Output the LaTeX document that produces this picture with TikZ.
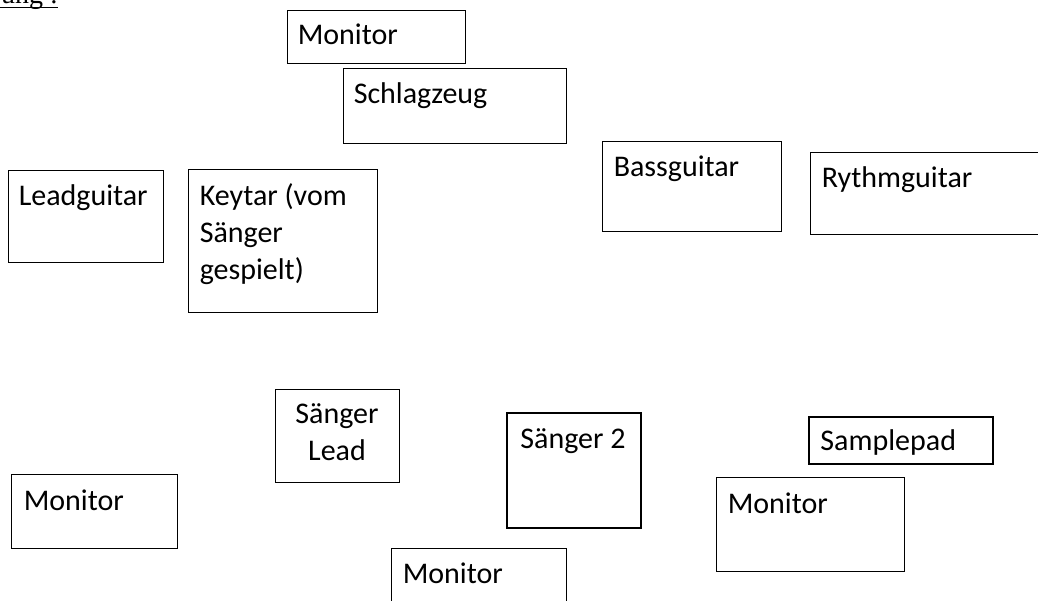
\documentclass[tikz,border=0pt]{standalone}
\usepackage{fontspec}
\setmainfont{Carlito}
\newfontfamily\serifhead{Liberation Serif}
\begin{document}
\begin{tikzpicture}[x=1pt,y=-1pt,
  box/.style={draw=black, line width=0.9pt, inner sep=0pt, rectangle},
  boxthick/.style={box, line width=1.5pt},
  lbl/.style={inner sep=0pt, anchor=base west, font=\fontsize{30}{36}\selectfont},
  lblc/.style={lbl, anchor=base}]
\useasboundingbox (0,0) rectangle (1038,601);
\clip (0,0) rectangle (1038,601);
% heading fragment
\node[inner sep=0pt, anchor=base east, font=\serifhead\fontsize{28}{32}\selectfont] (head) at (58,4) {ung :};
\draw[line width=1.2pt] (0,7.5) -- (head.base east |- 0,7.5);
% boxes
\node[box, minimum width=178, minimum height=53] (mtop) at (376,36.5) {};
\node[box, minimum width=223, minimum height=75] (drums) at (454.5,105.5) {};
\node[box, minimum width=179, minimum height=90] (bass) at (691.5,186) {};
\node[box, minimum width=235, minimum height=82] (rhythm) at (927.5,193) {};
\node[box, minimum width=155, minimum height=92] (lead) at (85.5,216) {};
\node[box, minimum width=189, minimum height=143] (keytar) at (282.5,240.5) {};
\node[box, minimum width=124, minimum height=93] (singer) at (337,435.5) {};
\node[box, minimum width=166, minimum height=74] (mleft) at (94,511) {};
\node[boxthick, minimum width=134, minimum height=115] (singer2) at (574,470.5) {};
\node[boxthick, minimum width=184, minimum height=47] (sample) at (901,440.5) {};
\node[box, minimum width=188, minimum height=94] (mright) at (810,524) {};
\node[box, minimum width=175, minimum height=62] (mmid) at (478.5,579) {};
% labels
\node[lbl] (tmtop) at ([shift={(11,35)}]mtop.north west) {Monitor};
\node[lbl] (tdrums) at ([shift={(11,36)}]drums.north west) {Schlagzeug};
\node[lbl] (tbass) at ([shift={(12,36)}]bass.north west) {Bassguitar};
\node[lbl] (trhythm) at ([shift={(12,36)}]rhythm.north west) {Rythmguitar};
\node[lbl] (tlead) at ([shift={(11,36)}]lead.north west) {Leadguitar};
\node[lbl] (tkey1) at ([shift={(12,37)}]keytar.north west) {Keytar (vom};
\node[lbl] (tkey2) at ([shift={(12,74)}]keytar.north west) {Sänger};
\node[lbl] (tkey3) at ([shift={(12,111)}]keytar.north west) {gespielt)};
\node[lblc] (tsing1) at ([shift={(0,35)}]singer.north) {Sänger};
\node[lblc] (tsing2) at ([shift={(0,72)}]singer.north) {Lead};
\node[lbl] (tmleft) at ([shift={(13,37)}]mleft.north west) {Monitor};
\node[lbl] (tsinger2) at ([shift={(14,36)}]singer2.north west) {Sänger 2};
\node[lbl] (tsample) at ([shift={(12,34)}]sample.north west) {Samplepad};
\node[lbl] (tmright) at ([shift={(12,37)}]mright.north west) {Monitor};
\node[lbl] (tmmid) at ([shift={(12,36)}]mmid.north west) {Monitor};
\end{tikzpicture}
\end{document}
